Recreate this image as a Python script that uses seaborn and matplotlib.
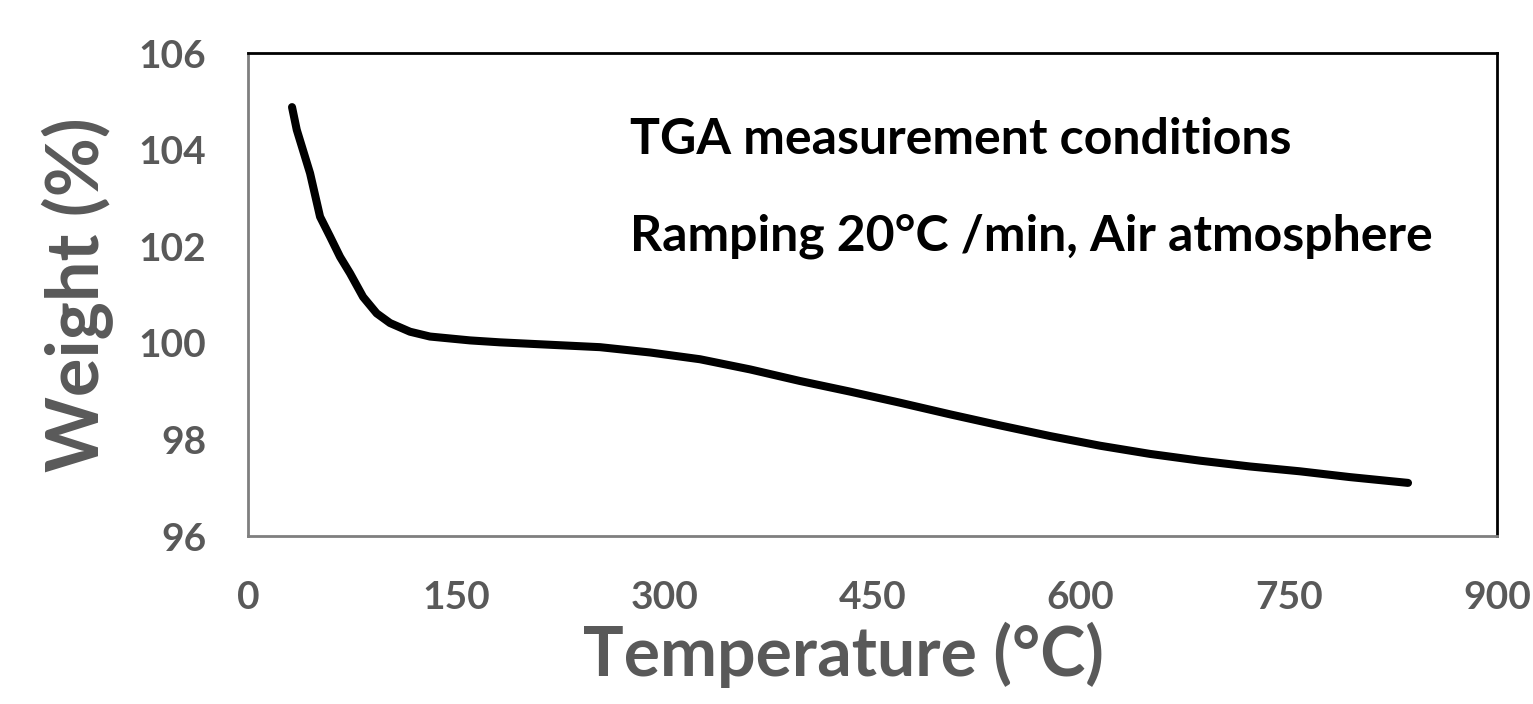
import numpy as np
import pandas as pd
import seaborn as sns
import matplotlib.pyplot as plt

# TGA curve
temperature = [31.7, 35.1, 44.7, 51.9, 59.1, 66.3, 73.5, 82.9, 92.7, 102.3, 116.7, 131.1,
               160, 181.6, 203, 253.6, 289.7, 325.7, 361.7, 397.7, 433.8, 469.8, 505.8,
               541.9, 577.9, 613.9, 650, 686, 722, 758, 794, 835.9]
weight = [104.88, 104.41, 103.51, 102.61, 102.2, 101.78, 101.44, 100.95, 100.61, 100.41,
          100.23, 100.13, 100.05, 100.01, 99.98, 99.91, 99.80, 99.66, 99.45, 99.21, 98.99,
          98.76, 98.52, 98.29, 98.07, 97.87, 97.70, 97.56, 97.44, 97.34, 97.22, 97.10]

x_ticks = [0, 150, 300, 450, 600, 750, 900]
y_ticks = [96, 98, 100, 102, 104, 106]
note_lines = ["TGA measurement conditions", "Ramping 20°C /min, Air atmosphere"]

df = pd.DataFrame({"Temperature": temperature, "Weight": weight})

sns.set_style("white")
plt.rcParams['font.family'] = ['Lato', 'DejaVu Sans']
plt.rcParams['font.weight'] = 'bold'

fig = plt.figure(figsize=(15.33, 7.04), dpi=100)
ax = fig.add_axes([0.1618, 0.2386, 0.9765 - 0.1618, 0.9247 - 0.2386])

sns.lineplot(data=df, x="Temperature", y="Weight", ax=ax, color="black",
             linewidth=5.8, solid_capstyle="round", solid_joinstyle="round")

ax.set_xlim(0, 900)
ax.set_ylim(96, 106)
ax.set_xticks(x_ticks)
ax.set_yticks(y_ticks)

grey = "#595959"
ax.tick_params(axis="x", length=0, pad=32, labelsize=28, labelcolor=grey)
ax.tick_params(axis="y", length=0, pad=30, labelsize=28, labelcolor=grey)
for lab in ax.get_xticklabels() + ax.get_yticklabels():
    lab.set_fontweight("bold")

ax.set_xlabel("Temperature (°C)", fontsize=49, fontweight="bold", color=grey)
ax.xaxis.set_label_coords(0.477, -0.246, transform=ax.transAxes)
ax.xaxis.label.set_va("center")
ax.set_ylabel("Weight (%)", fontsize=52, fontweight="bold", color=grey, labelpad=18)

for side in ["top", "right"]:
    ax.spines[side].set_color("black")
    ax.spines[side].set_linewidth(2)
for side in ["left", "bottom"]:
    ax.spines[side].set_color("#7f7f7f")
    ax.spines[side].set_linewidth(2)

ax.text(275, 104.2, note_lines[0], fontsize=36, fontweight="bold", color="black", va="center")
ax.text(275, 102.2, note_lines[1], fontsize=36, fontweight="bold", color="black", va="center")

fig.savefig("out.png", dpi=100)
